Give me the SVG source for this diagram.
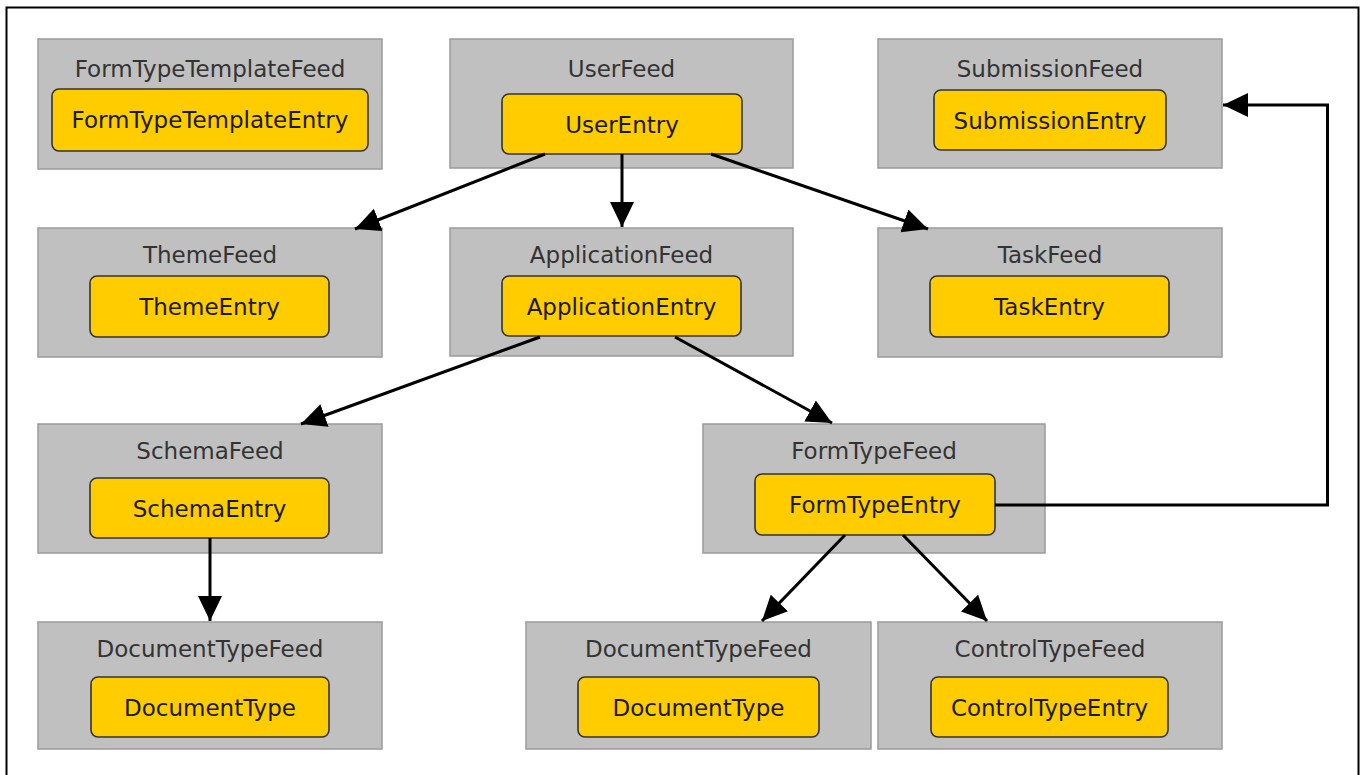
<svg xmlns="http://www.w3.org/2000/svg" width="1361" height="775" viewBox="0 0 1361 775">
  <style>
    .feed { fill: #c0c0c0; stroke: #9a9a9a; stroke-width: 1.5; }
    .entry { fill: #ffcc00; stroke: #333333; stroke-width: 1.6; }
    .title { font-family: "DejaVu Sans", "Liberation Sans", sans-serif; font-size: 23px; fill: #333333; text-anchor: middle; }
    .label { font-family: "DejaVu Sans", "Liberation Sans", sans-serif; font-size: 23px; fill: #1a1a1a; text-anchor: middle; }
    .edge { fill: none; stroke: #000000; stroke-width: 3; }
  </style>
  <defs>
    <marker id="arrow" markerUnits="userSpaceOnUse" markerWidth="26" markerHeight="26" viewBox="0 0 26 26" refX="25" refY="12" orient="auto">
      <path d="M0,0 L25,12 L0,24 Z" fill="#000000"/>
    </marker>
  </defs>

  <!-- page frame -->
  <rect x="6.5" y="7.5" width="1352" height="800" fill="#ffffff" stroke="#000000" stroke-width="2"/>

  <g id="FormTypeTemplateFeed">
    <rect class="feed" x="38" y="39" width="344" height="130"/>
    <text class="title" x="210" y="77">FormTypeTemplateFeed</text>
    <rect class="entry" x="52" y="89" width="316" height="62" rx="7"/>
    <text class="label" x="210" y="128">FormTypeTemplateEntry</text>
  </g>

  <g id="UserFeed">
    <rect class="feed" x="450" y="39" width="343" height="129"/>
    <text class="title" x="621.5" y="77">UserFeed</text>
    <rect class="entry" x="502" y="94" width="240" height="60" rx="7"/>
    <text class="label" x="622" y="133">UserEntry</text>
  </g>

  <g id="SubmissionFeed">
    <rect class="feed" x="878" y="39" width="344" height="129"/>
    <text class="title" x="1050" y="77">SubmissionFeed</text>
    <rect class="entry" x="934" y="90" width="232" height="60" rx="7"/>
    <text class="label" x="1050" y="129">SubmissionEntry</text>
  </g>

  <g id="ThemeFeed">
    <rect class="feed" x="38" y="228" width="344" height="129"/>
    <text class="title" x="210" y="263">ThemeFeed</text>
    <rect class="entry" x="90" y="276" width="239" height="61" rx="7"/>
    <text class="label" x="209.5" y="315">ThemeEntry</text>
  </g>

  <g id="ApplicationFeed">
    <rect class="feed" x="450" y="228" width="343" height="128"/>
    <text class="title" x="621.5" y="263">ApplicationFeed</text>
    <rect class="entry" x="502" y="276" width="239" height="60" rx="7"/>
    <text class="label" x="621.5" y="315">ApplicationEntry</text>
  </g>

  <g id="TaskFeed">
    <rect class="feed" x="878" y="228" width="344" height="129"/>
    <text class="title" x="1050" y="263">TaskFeed</text>
    <rect class="entry" x="930" y="276" width="239" height="61" rx="7"/>
    <text class="label" x="1049.5" y="315">TaskEntry</text>
  </g>

  <g id="SchemaFeed">
    <rect class="feed" x="38" y="424" width="344" height="129"/>
    <text class="title" x="210" y="459">SchemaFeed</text>
    <rect class="entry" x="90" y="478" width="239" height="60" rx="7"/>
    <text class="label" x="209.5" y="517">SchemaEntry</text>
  </g>

  <g id="FormTypeFeed">
    <rect class="feed" x="703" y="424" width="342" height="129"/>
    <text class="title" x="874" y="459">FormTypeFeed</text>
    <rect class="entry" x="755" y="474" width="240" height="61" rx="7"/>
    <text class="label" x="875" y="513">FormTypeEntry</text>
  </g>

  <g id="DocumentTypeFeed-schema">
    <rect class="feed" x="38" y="622" width="344" height="127"/>
    <text class="title" x="210" y="657">DocumentTypeFeed</text>
    <rect class="entry" x="91" y="677" width="238" height="60" rx="7"/>
    <text class="label" x="210" y="716">DocumentType</text>
  </g>

  <g id="DocumentTypeFeed-formtype">
    <rect class="feed" x="526" y="622" width="345" height="127"/>
    <text class="title" x="698.5" y="657">DocumentTypeFeed</text>
    <rect class="entry" x="578" y="677" width="241" height="60" rx="7"/>
    <text class="label" x="698.5" y="716">DocumentType</text>
  </g>

  <g id="ControlTypeFeed">
    <rect class="feed" x="878" y="622" width="344" height="127"/>
    <text class="title" x="1050" y="657">ControlTypeFeed</text>
    <rect class="entry" x="931" y="677" width="237" height="60" rx="7"/>
    <text class="label" x="1049.5" y="716">ControlTypeEntry</text>
  </g>

  <g id="connectors">
    <path class="edge" marker-end="url(#arrow)" d="M545,154 L355,229"/>
    <path class="edge" marker-end="url(#arrow)" d="M622,154 L622,227"/>
    <path class="edge" marker-end="url(#arrow)" d="M711,154 L928,229"/>
    <path class="edge" marker-end="url(#arrow)" d="M540,337 L301,424"/>
    <path class="edge" marker-end="url(#arrow)" d="M675,337 L832,423"/>
    <path class="edge" marker-end="url(#arrow)" d="M210,538 L210,621"/>
    <path class="edge" marker-end="url(#arrow)" d="M845,535 L762,621"/>
    <path class="edge" marker-end="url(#arrow)" d="M903,535 L987,621"/>
    <path class="edge" marker-end="url(#arrow)" d="M995,505 L1327.5,505 L1327.5,105 L1223,105"/>
  </g>
</svg>
